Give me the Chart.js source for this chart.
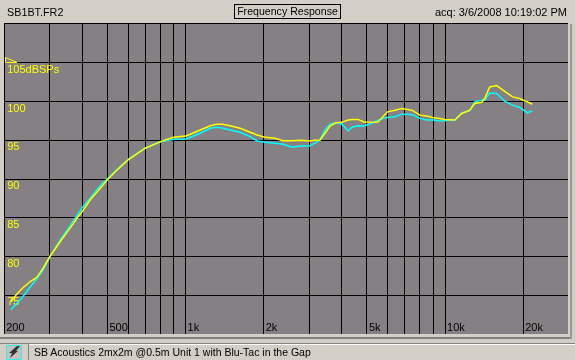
<!DOCTYPE html>
<html><head><meta charset="utf-8">
<style>
html,body{margin:0;padding:0;background:#D4D0C8;overflow:hidden}
#wrap{position:relative;width:575px;height:360px;background:repeating-conic-gradient(#d6d2ca 0 25%,#d0ccc4 0 50%) 0 0/2px 2px;font:11px "Liberation Sans",Arial,sans-serif;color:#000}
canvas{position:absolute;left:0;top:0}
.t{position:absolute;white-space:nowrap;line-height:14px}
.b{position:absolute}
</style></head><body>
<div id="wrap">
<canvas id="c" width="575" height="360"></canvas>
<div class="t" style="left:7px;top:5px;font-size:10.8px">SB1BT.FR2</div>
<div class="t" style="left:234px;top:4px;width:105px;height:13px;line-height:13px;border:1px solid #000;text-align:center;font-size:10.6px">Frequency Response</div>
<div class="t" style="right:8px;top:5px">acq: 3/6/2008 10:19:02 PM</div>
<div class="b" style="left:0;top:337px;width:572px;height:2px;background:#808080"></div>
<div class="b" style="left:570px;top:24px;width:2px;height:315px;background:#9a9894"></div>
<div class="b" style="left:0;top:343px;width:575px;height:1px;background:#808080"></div>
<div class="b" style="left:28px;top:344px;width:547px;height:1px;background:#fff"></div>
<div class="b" style="left:28px;top:344px;width:1px;height:16px;background:#808080"></div>
<div class="b" style="left:6px;top:345px;width:14px;height:13px;border:1px solid #3fe8ee;background:#c4c2bc"></div>
<svg class="b" style="left:7px;top:346px" width="14" height="13"><path d="M10 0 L13 0 L9 5 L11 5 L3 12 L5 7 L2 7 Z" fill="#333"/></svg>
<div class="t" style="left:34px;top:345px;font-size:10.5px">SB Acoustics 2mx2m @0.5m Unit 1 with Blu-Tac in the Gap</div>
</div>
<script src="https://cdn.jsdelivr.net/npm/chart.js@4/dist/chart.umd.min.js"></script>
<script>
const frequencies = [212,223,235,253,267,281,300,330,360,383,400,430,470,500,537,600,700,800,850,900,1000,1043,1139,1245,1312,1384,1485,1623,1774,1887,2000,2213,2375,2573,2762,3000,3154,3297,3446,3602,3798,4000,4225,4378,4616,4868,5225,5512,6000,6407,6815,7446,8000,8504,9046,9541,10000,10426,10898,11594,12445,13008,13844,14213,14855,15806,16968,18212,19380,20260,20750,21690];
const yellowDb = [74.14,75.1,75.9,76.8,77.31,78.37,80.0,82.0,83.72,85.0,85.81,87.35,88.85,89.91,90.97,92.47,93.97,94.82,95.13,95.38,95.55,95.77,96.32,96.87,97.05,97.05,96.87,96.54,96.03,95.68,95.42,95.26,94.95,94.95,95.0,94.91,95.0,95.04,95.9,96.83,97.26,97.31,97.6,97.69,97.69,97.35,97.31,97.35,98.67,98.88,99.1,98.88,98.24,98.12,97.9,97.82,97.69,97.64,97.6,98.46,98.88,99.74,99.91,100.38,101.87,102.05,101.32,100.59,100.38,100.08,99.97,99.65];
const cyanDb = [73.15,73.88,74.74,76.15,77.09,78.15,79.95,82.22,84.01,85.36,86.32,87.56,89.18,90.04,91.06,92.5,94.0,94.8,94.95,95.13,95.17,95.38,95.9,96.54,96.67,96.58,96.32,96.03,95.46,94.91,94.78,94.62,94.49,94.1,94.27,94.27,94.62,95.04,96.32,97.09,97.26,97.09,96.23,96.67,96.87,96.83,97.18,97.6,97.95,98.03,98.37,98.33,97.82,97.6,97.6,97.47,97.51,97.64,97.6,98.54,98.79,99.95,100.17,100.17,101.1,101.03,100.04,99.53,99.23,98.79,98.54,98.79];
const freqTicks = [200,300,400,500,600,700,800,900,1000,2000,3000,4000,5000,6000,7000,8000,9000,10000,20000];
const freqLabels = {200:"200",500:"500",1000:"1k",2000:"2k",5000:"5k",10000:"10k",20000:"20k"};
const dbTicks = [75,80,85,90,95,100,105];
const dbLabels = {75:"75",80:"80",85:"85",90:"90",95:"95",100:"100",105:"105dBSPs"};
const toPts = a => a.map((v,i)=>({x:frequencies[i],y:v}));
const frame = {
  id:"frame",
  beforeDraw(ch){
    const a=ch.chartArea,c=ch.ctx;
    c.save();
    c.fillStyle="#848084";c.fillRect(4,a.top-1,a.right-4,a.bottom-a.top+1);
    c.fillStyle="#000";c.fillRect(4,a.top-1,a.right-4,1);
    c.restore();
  },
  afterDatasetsDraw(ch){
    const c=ch.ctx,l=ch.chartArea.left,y=Math.round(ch.scales.y.getPixelForValue(105))-.5;
    c.save();c.strokeStyle="#ffff00";c.lineWidth=1;c.beginPath();
    c.moveTo(l+1.3,y-5);c.lineTo(l+12.8,y);c.lineTo(l+1.3,y);c.closePath();c.stroke();c.restore();
  }
};
new Chart(document.getElementById("c"),{
  type:"line",
  data:{datasets:[
    {label:"Unit 1 B",data:toPts(cyanDb),borderColor:"#00ffff",borderWidth:1.5,pointRadius:0,tension:0,fill:false,order:2},
    {label:"Unit 1 A",data:toPts(yellowDb),borderColor:"#ffff00",borderWidth:1.5,pointRadius:0,tension:0,fill:false,order:1}
  ]},
  options:{
    responsive:false,animation:false,
    layout:{padding:{left:4.2,top:24,right:7,bottom:26}},
    plugins:{legend:{display:false},title:{display:false},tooltip:{enabled:false}},
    scales:{
      x:{type:"logarithmic",min:200,max:29760,
        afterBuildTicks(s){s.ticks=freqTicks.map(v=>({value:v}));},
        afterFit(s){s.height=0;},
        grid:{color:"#000",lineWidth:1,drawTicks:false},
        border:{display:false},
        ticks:{mirror:true,autoSkip:false,maxRotation:0,minRotation:0,padding:-1,align:"start",labelOffset:2,color:"#000",
          font:{family:"Liberation Sans",size:11},
          callback:v=>freqLabels[v]||""}
      },
      y:{type:"linear",min:70,max:110,
        afterBuildTicks(s){s.ticks=dbTicks.map(v=>({value:v}));},
        afterFit(s){s.width=0;},
        grid:{color:"#000",lineWidth:1,drawTicks:false},
        border:{display:false},
        ticks:{mirror:true,padding:3,labelOffset:7,color:"#ffff00",crossAlign:"near",autoSkip:false,
          font:{family:"Liberation Sans",size:11},
          callback:v=>dbLabels[v]||""}
      }
    }
  },
  plugins:[frame]
});
</script>
</body></html>
